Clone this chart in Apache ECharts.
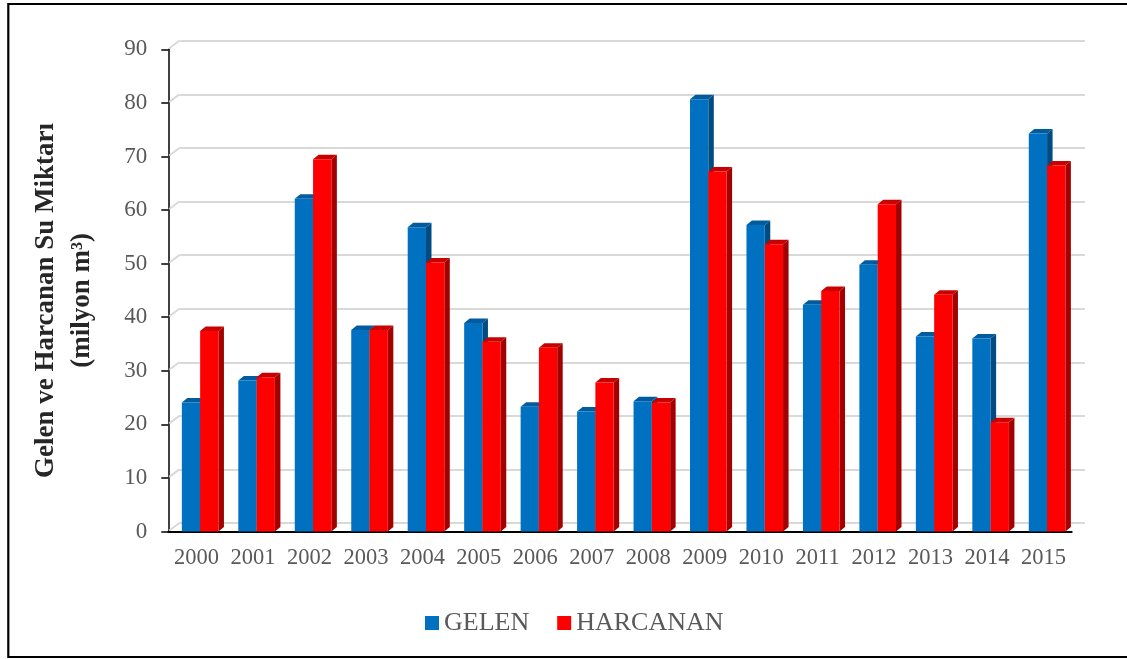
<!DOCTYPE html>
<html>
<head>
<meta charset="utf-8">
<script src="https://cdn.jsdelivr.net/npm/echarts@6/dist/echarts.min.js"></script>
<style>
  html, body { margin: 0; padding: 0; background: #fff; }
  #chart { width: 1127px; height: 659px; }
</style>
</head>
<body>
<div id="chart"></div>
<script>
// Yearly incoming (GELEN) and spent (HARCANAN) water, million m³
const years = ['2000','2001','2002','2003','2004','2005','2006','2007',
               '2008','2009','2010','2011','2012','2013','2014','2015'];
const gelen    = [24.1, 28.2, 62.1, 37.6, 56.8, 38.9, 23.3, 22.4, 24.3, 80.7, 57.2, 42.3, 49.8, 36.4, 36.0, 74.3];
const harcanan = [37.4, 28.8, 69.5, 37.6, 50.2, 35.4, 34.3, 27.8, 24.1, 67.2, 53.6, 44.9, 61.1, 44.2, 20.4, 68.3];
const yTicks   = [0, 10, 20, 30, 40, 50, 60, 70, 80, 90];

const FONT = "'Liberation Serif', 'Times New Roman', serif";
const LABEL_COLOR = '#595959';
const DEPTH_X = 11, DEPTH_Y = 8.5;     // back wall offset
const BAR_DX = 5.5, BAR_DY = 4.5;      // bar depth

const palette = [
  { front: '#0070C0', side: '#004B82', top: '#005C9E' },
  { front: '#FF0000', side: '#A30000', top: '#C80000' }
];

// Box-like column: front face, right side face and top face
function box3d(slot) {
  return function (params, api) {
    const i = api.value(0), v = api.value(1);
    const base = api.coord([i, 0]);
    const top = api.coord([i, v]);
    const band = api.size([1, 0])[0];
    const w = band * 0.324;
    const x0 = base[0] - band * 0.26 + slot * w;
    const yt = top[1], yb = base[1];
    const c = palette[slot];
    return {
      type: 'group',
      children: [
        { type: 'polygon', shape: { points: [[x0 + w, yt], [x0 + w + BAR_DX, yt - BAR_DY], [x0 + w + BAR_DX, yb - BAR_DY], [x0 + w, yb]] },
          style: { fill: c.side } },
        { type: 'polygon', shape: { points: [[x0, yt], [x0 + BAR_DX, yt - BAR_DY], [x0 + w + BAR_DX, yt - BAR_DY], [x0 + w, yt]] },
          style: { fill: c.top } },
        { type: 'rect', shape: { x: x0, y: yt, width: w, height: yb - yt },
          style: { fill: c.front } }
      ]
    };
  };
}

// Short diagonals joining each value tick on the axis to the back wall gridline
function wallEdge(params, api) {
  const v = api.value(1);
  const y = api.coord([0, v])[1];
  const x = params.coordSys.x;
  return {
    type: 'line',
    shape: { x1: x + 1, y1: y - 1, x2: x + DEPTH_X, y2: y - DEPTH_Y },
    style: { stroke: '#D9D9D9', lineWidth: 2 }
  };
}

const chart = echarts.init(document.getElementById('chart'), null, { renderer: 'canvas' });

const gridFront = { left: 168.3, right: 55.3, top: 49.3, bottom: 127.5 };
const gridBack = {
  left: gridFront.left + DEPTH_X, right: 42,
  top: gridFront.top - DEPTH_Y, bottom: gridFront.bottom + DEPTH_Y
};

chart.setOption({
  backgroundColor: '#fff',
  animation: false,
  grid: [
    Object.assign({ containLabel: false }, gridFront),
    Object.assign({ containLabel: false }, gridBack)
  ],
  legend: {
    data: ['GELEN', 'HARCANAN'],
    left: 420, top: 605,
    itemWidth: 14, itemHeight: 14, itemGap: 28,
    icon: 'rect',
    textStyle: { fontFamily: FONT, fontSize: 26, color: LABEL_COLOR }
  },
  xAxis: [
    {
      type: 'category', gridIndex: 0, data: years,
      axisLine: { lineStyle: { color: '#000', width: 2 } },
      axisTick: { length: 7, lineStyle: { color: '#000', width: 1.5 } },
      axisLabel: { interval: 0, fontFamily: FONT, fontSize: 22.5, color: LABEL_COLOR, margin: 15 },
      splitLine: { show: false }
    },
    {
      type: 'category', gridIndex: 1, data: years, show: false
    }
  ],
  yAxis: [
    {
      type: 'value', gridIndex: 0, min: 0, max: 90, interval: 10,
      axisLine: { show: true, lineStyle: { color: '#000', width: 1.5 } },
      axisTick: { show: true, length: 7, lineStyle: { color: '#000', width: 1.5 } },
      axisLabel: { fontFamily: FONT, fontSize: 23, color: LABEL_COLOR, margin: 21 },
      splitLine: { show: false },
      name: 'Gelen ve Harcanan Su Miktarı\n(milyon m³)',
      nameLocation: 'middle',
      nameRotate: 90,
      nameGap: 68,
      nameTextStyle: {
        fontFamily: FONT, fontSize: 27, fontWeight: 'bold', color: '#262626',
        lineHeight: 36, align: 'center', padding: [0, 20, 0, 0]
      }
    },
    {
      type: 'value', gridIndex: 1, min: 0, max: 90, interval: 10,
      axisLine: { show: false }, axisTick: { show: false }, axisLabel: { show: false },
      splitLine: { show: true, lineStyle: { color: '#D9D9D9', width: 2 } }
    }
  ],
  graphic: [
    {
      type: 'rect', silent: true, z: -10,
      shape: { x: 8.3, y: 4, width: 1130, height: 653 },
      style: { fill: 'none', stroke: '#000', lineWidth: 2.2 }
    }
  ],
  series: [
    {
      type: 'custom', name: 'wall', xAxisIndex: 0, yAxisIndex: 0,
      renderItem: wallEdge, silent: true, z: 1,
      data: yTicks.map(function (t) { return [0, t]; }),
      encode: { x: 0, y: 1 }
    },
    {
      type: 'custom', name: 'GELEN', xAxisIndex: 0, yAxisIndex: 0,
      renderItem: box3d(0), z: 3,
      itemStyle: { color: palette[0].front },
      data: gelen.map(function (v, i) { return [i, v]; }),
      encode: { x: 0, y: 1 }
    },
    {
      type: 'custom', name: 'HARCANAN', xAxisIndex: 0, yAxisIndex: 0,
      renderItem: box3d(1), z: 4,
      itemStyle: { color: palette[1].front },
      data: harcanan.map(function (v, i) { return [i, v]; }),
      encode: { x: 0, y: 1 }
    }
  ]
});
</script>
</body>
</html>
